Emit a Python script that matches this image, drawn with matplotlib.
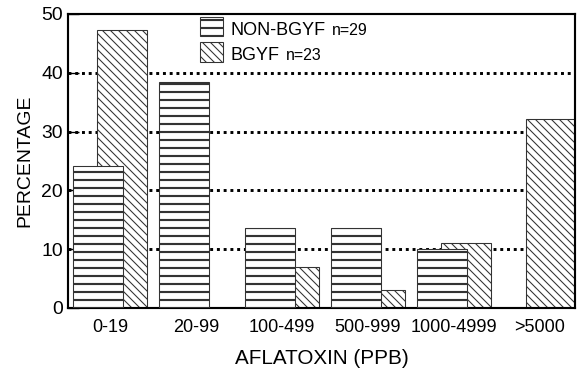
import matplotlib
matplotlib.use("Agg")
import matplotlib.pyplot as plt
from matplotlib.patches import Rectangle
import numpy as np

categories = ["0-19", "20-99", "100-499", "500-999", "1000-4999", ">5000"]
non_bgyf = [24.1, 38.5, 13.6, 13.6, 10.1, 0]
bgyf = [47.2, 0, 7.0, 3.1, 11.1, 32.1]
yticks = [0, 10, 20, 30, 40, 50]
label_non = "NON-BGYF"
label_bgyf = "BGYF"
n_non = "n=29"
n_bgyf = "n=23"

plt.rcParams['font.family'] = ['Liberation Sans', 'DejaVu Sans']

DPI = 96
W, H = 582, 368
fig = plt.figure(figsize=(W / DPI, H / DPI), dpi=DPI)
L, R, T, B = 68, 575, 14, 308
ax = fig.add_axes([L / W, 1 - B / H, (R - L) / W, (B - T) / H])

x = np.arange(len(categories))
bw = 0.583
off = 0.14

plt.rcParams['hatch.linewidth'] = 0.8
bars_b = ax.bar(x + off, bgyf, width=bw, facecolor='white', edgecolor='#333333',
                linewidth=0.8, hatch='\\\\\\\\', zorder=2)
for p in bars_b:
    if hasattr(p, 'set_hatch_linewidth'):
        p.set_hatch_linewidth(0.8)
plt.rcParams['hatch.linewidth'] = 1.6
bars_n = ax.bar(x - off, non_bgyf, width=bw, facecolor='white', edgecolor='#333333',
                linewidth=0.8, hatch='--', zorder=3)
for p in bars_n:
    if hasattr(p, 'set_hatch_linewidth'):
        p.set_hatch_linewidth(1.6)

ax.set_xlim(-0.495, 5.414)
ax.set_ylim(0, 50)
ax.set_yticks(yticks)
ax.set_yticklabels([str(v) for v in yticks], fontsize=14.5)
ax.set_xticks(x)
ax.set_xticklabels(categories, fontsize=13.5)
ax.tick_params(axis='x', length=0, pad=8)
ax.tick_params(axis='y', direction='in', length=8, width=1, pad=4, right=False)

for v in yticks[1:-1]:
    ax.axhline(v, color='black', linewidth=2.2, linestyle=(0, (1, 1.3)),
               dash_capstyle='butt', zorder=1)

for s in ax.spines.values():
    s.set_linewidth(1.6)
    s.set_color('black')

ax.set_ylabel("PERCENTAGE", fontsize=14.5, labelpad=6)
ax.set_xlabel("AFLATOXIN (PPB)", fontsize=15.5, labelpad=10)

# legend drawn manually in figure pixel coordinates
def fx(px):
    return px / W

def fy(py):
    return 1 - py / H

plt.rcParams['hatch.linewidth'] = 1.6
r1 = Rectangle((fx(200), fy(36)), fx(223) - fx(200), fy(17) - fy(36), transform=fig.transFigure,
               facecolor='white', edgecolor='#333333', linewidth=0.8, hatch='--', zorder=5)
fig.add_artist(r1)
plt.rcParams['hatch.linewidth'] = 0.8
r2 = Rectangle((fx(200), fy(62)), fx(223) - fx(200), fy(42) - fy(62), transform=fig.transFigure,
               facecolor='white', edgecolor='#333333', linewidth=0.8, hatch='\\\\\\\\', zorder=5)
fig.add_artist(r2)
t1 = fig.text(fx(231), fy(35), label_non, fontsize=13.5, va='baseline', ha='left')
t2 = fig.text(fx(231), fy(60), label_bgyf, fontsize=13.5, va='baseline', ha='left')
renderer = fig.canvas.get_renderer()
e1 = t1.get_window_extent(renderer)
e2 = t2.get_window_extent(renderer)
fig.text((e1.x1 + 6) / W, fy(35), n_non, fontsize=12, va='baseline', ha='left')
fig.text((e2.x1 + 6) / W, fy(60), n_bgyf, fontsize=12, va='baseline', ha='left')

fig.savefig("out.png", dpi=DPI)
